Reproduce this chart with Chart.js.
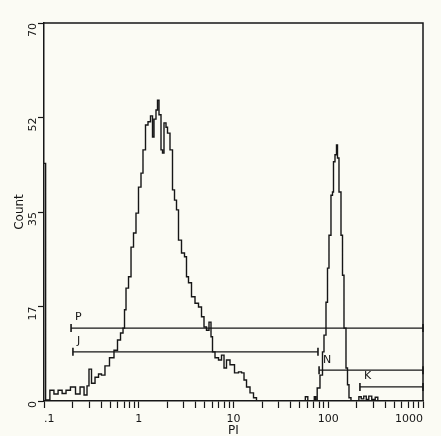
<!DOCTYPE html>
<html lang="en">
<head>
<meta charset="UTF-8">
<title>PI histogram</title>
<script src="https://cdn.jsdelivr.net/npm/chart.js"></script>
<style>
    body { margin: 0; padding: 0; overflow: hidden; background: #fbfbf4; }
    #wrap { width: 441px; height: 436px; }
</style>
</head>
<body>
<div id="wrap"><canvas id="histCanvas"></canvas></div>
<script>
// channel position (PI) and count
const piValues = [0.1, 0.103, 0.105, 0.110, 0.121, 0.134, 0.148, 0.163, 0.179, 0.202, 0.229, 0.252, 0.278, 0.291,
    0.306, 0.329, 0.363, 0.390, 0.419, 0.462, 0.522, 0.575, 0.619, 0.666, 0.699, 0.716, 0.752, 0.809, 0.849,
    0.913, 0.958, 1.031, 1.082, 1.136, 1.222, 1.283, 1.380, 1.414, 1.484, 1.558, 1.597, 1.676, 1.760, 1.803,
    1.892, 1.987, 2.036, 2.243, 2.299, 2.473, 2.533, 2.725, 2.931, 3.152, 3.230, 3.474, 3.738, 4.119, 4.431,
    4.766, 5.003, 5.381, 5.649, 5.931, 6.077, 6.699, 7.204, 7.750, 8.136, 8.750, 9.643, 10.89, 11.71, 12.60,
    13.23, 14.23, 15.68, 16.86, 18.14, 25, 55, 59.7, 62, 70, 72.5, 75,
    77.9, 85.9, 88.0, 92.4, 97.0, 99.4, 104.3, 109.5, 112.2, 115.0, 120.7, 123.7, 126.7, 133.0, 139.7, 143.1,
    150.2, 157.7, 161.6, 169.6, 178.1, 205, 216, 230, 244, 260, 276, 300, 327, 340, 1000];
const counts = [44, 44, 0, 0.2, 2.0, 1.3, 2.0, 1.4, 2.0, 2.6, 1.3, 2.6, 1.1, 2.8,
    5.9, 3.3, 4.4, 5.0, 4.8, 6.5, 8.0, 9.4, 11.3, 12.6, 13.5, 16.9, 20.9, 23.0, 28.5,
    31.1, 34.8, 39.6, 42.2, 46.5, 51.1, 51.7, 52.8, 48.9, 52.2, 53.9, 55.7, 53.0, 46.5, 45.9,
    51.5, 50.7, 49.6, 46.5, 39.1, 37.2, 35.4, 29.8, 27.4, 26.7, 23.0, 21.9, 19.3, 18.1, 17.4,
    15.6, 13.7, 13.1, 14.6, 11.9, 9.1, 8.0, 7.6, 8.5, 6.1, 7.6, 6.7, 5.2, 5.4, 5.2,
    3.9, 2.6, 1.5, 0.6, 0, 0, 0, 0.8, 0, 0, 0.8, 0,
    2.4, 4.8, 9.1, 12.2, 18.3, 24.6, 30.7, 38.1, 38.7, 44.3, 45.6, 47.4, 45.0, 38.7, 30.7, 23.3,
    13.5, 6.1, 3.0, 0.6, 0, 0, 0.8, 0.4, 0.9, 0.3, 0.9, 0.3, 0.7, 0, 0];

// marker gates
const gateNames = ['P', 'J', 'N', 'K'];
const gateStart = [0.193, 0.202, 80, 216];
const gateEnd = [1000, 77.9, 1000, 1000];
const gateLevel = [13.5, 9.1, 5.7, 2.6];

// axes
const xMajorTicks = [0.1, 1, 10, 100, 1000];
const xMajorLabels = ['.1', '1', '10', '100', '1000'];
const yTickValues = [0, 17.5, 35, 52.5, 70];
const yTickLabels = ['0', '17', '35', '52', '70'];

const xAllTicks = [];
for (let d = 0.1; d < 1000; d *= 10) {
    for (let m = 1; m < 10; m++) xAllTicks.push(+(d * m).toPrecision(3));
}
xAllTicks.push(1000);

const ink = '#161616';
const tickFont = { family: 'DejaVu Sans, sans-serif', size: 11 };
const titleFont = { family: 'DejaVu Sans, sans-serif', size: 12 };

const datasets = [{
    data: piValues.map((x, i) => ({ x: x, y: counts[i] })),
    borderColor: ink,
    borderWidth: 1.4,
    pointRadius: 0,
    stepped: 'middle',
    fill: false
}];
gateNames.forEach((name, i) => {
    datasets.push({
        data: [{ x: gateStart[i], y: gateLevel[i] }, { x: gateEnd[i], y: gateLevel[i] }],
        borderColor: ink,
        borderWidth: 1.3,
        pointStyle: 'line',
        pointRotation: 90,
        pointRadius: 4,
        pointBorderWidth: 1.6,
        pointBorderColor: ink,
        clip: false
    });
});

const framePlugin = {
    id: 'frame',
    afterDatasetsDraw(chart) {
        const { ctx, chartArea: a, scales } = chart;
        ctx.save();
        ctx.strokeStyle = ink;
        ctx.lineWidth = 1.5;
        ctx.beginPath();
        ctx.moveTo(a.left, a.top);
        ctx.lineTo(a.right, a.top);
        ctx.lineTo(a.right, a.bottom);
        ctx.stroke();
        ctx.fillStyle = ink;
        ctx.font = '11px DejaVu Sans, sans-serif';
        ctx.textBaseline = 'bottom';
        gateNames.forEach((name, i) => {
            const px = scales.x.getPixelForValue(gateStart[i]);
            const py = scales.y.getPixelForValue(gateLevel[i]);
            ctx.fillText(name, px + 4, py - 5);
        });
        ctx.restore();
    }
};

new Chart(document.getElementById('histCanvas'), {
    type: 'line',
    data: { datasets: datasets },
    options: {
        responsive: true,
        maintainAspectRatio: false,
        animation: false,
        layout: { padding: { left: 0, top: 23, right: 18, bottom: 0 } },
        plugins: { legend: { display: false }, tooltip: { enabled: false } },
        scales: {
            x: {
                type: 'logarithmic',
                min: 0.1,
                max: 1000,
                afterBuildTicks: s => { s.ticks = xAllTicks.map(v => ({ value: v })); },
                afterFit: s => { s.height = 35; },
                grid: { drawOnChartArea: false, tickLength: 7, color: ink, tickWidth: 1.2 },
                border: { color: ink, width: 1.5 },
                ticks: {
                    autoSkip: false, maxRotation: 0, align: 'inner', padding: 5, color: ink, font: tickFont,
                    callback: v => {
                        const k = xMajorTicks.findIndex(t => Math.abs(t - v) < 1e-9);
                        return k >= 0 ? xMajorLabels[k] : '';
                    }
                },
                title: { display: true, text: 'PI', color: ink, font: titleFont, padding: { top: 0, bottom: -2 } }
            },
            y: {
                min: 0,
                max: 70,
                afterBuildTicks: s => { s.ticks = yTickValues.map(v => ({ value: v })); },
                afterFit: s => { s.width = 44; },
                grid: { drawOnChartArea: false, tickLength: 6, color: ink, tickWidth: 1.2 },
                border: { color: ink, width: 1.5 },
                ticks: {
                    minRotation: 90, maxRotation: 90, padding: 5, color: ink, font: tickFont,
                    callback: (v, i) => yTickLabels[i]
                },
                title: { display: true, text: 'Count', color: ink, font: titleFont, padding: { top: 13, bottom: 0 } }
            }
        }
    },
    plugins: [framePlugin]
});
</script>
</body>
</html>
